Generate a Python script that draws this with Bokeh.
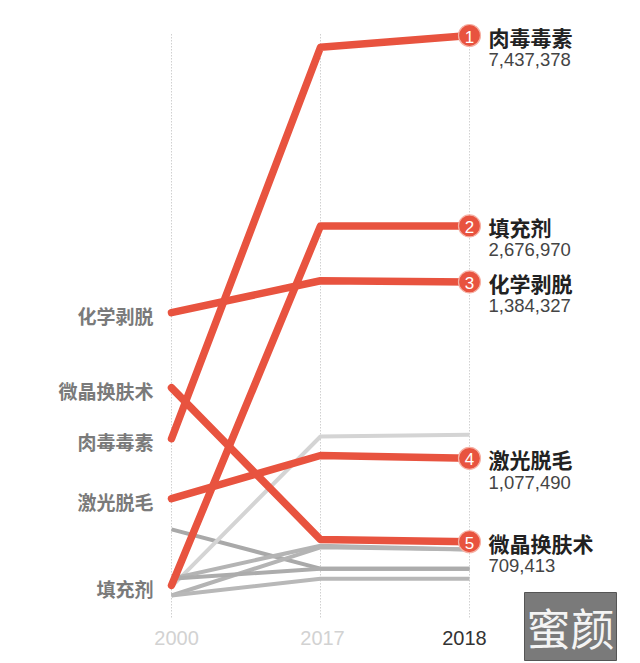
from bokeh.plotting import figure
from bokeh.models import Range1d, Label
from bokeh.core.properties import value
from bokeh.embed import file_html
from bokeh.resources import INLINE

# ---------------- data ----------------
years = ["2000", "2017", "2018"]
year_colors = ["#d2d2d2", "#d2d2d2", "#333333"]

# top five procedures (rank order in 2018)
top_names = ["肉毒毒素", "填充剂", "化学剥脱", "激光脱毛", "微晶换肤术"]
top_2018_counts = ["7,437,378", "2,676,970", "1,384,327", "1,077,490", "709,413"]
top_ranks = ["1", "2", "3", "4", "5"]
# vertical position score (0 = bottom cluster, 100 = top)
top_2000 = [28.0, 1.8, 50.5, 17.3, 37.1]
top_2017 = [97.9, 66.0, 56.2, 25.0, 10.0]
top_2018 = [100.0, 66.0, 56.0, 24.5, 9.6]

# other (grey) procedures
grey_2000 = [11.8, 1.6, 3.0, 0.0, 3.0, 0.0]
grey_2017 = [4.8, 28.4, 8.9, 8.6, 4.8, 3.0]
grey_2018 = [4.8, 28.7, 8.2, 8.2, 4.8, 3.0]
grey_colors = ["#a9a9a9", "#d4d4d4", "#b4b4b4", "#b4b4b4", "#acacac", "#b8b8b8"]

RED = "#e8533f"
CJK = "Noto Sans CJK SC"

# ---------------- figure ----------------
W, H = 640, 663
p = figure(width=W, height=H, output_backend="svg", toolbar_location=None,
           x_range=Range1d(-1.1477, 3.1477), y_range=Range1d(-12.14, 106.25),
           min_border=0, outline_line_color=None)
p.axis.visible = False
p.grid.visible = False
p.background_fill_color = "white"
p.border_fill_color = "white"

xs = list(range(len(years)))

# dotted year guides
p.segment(x0=xs, x1=xs, y0=[-3.9] * 3, y1=[100.4] * 3,
          line_color="#b8b8b8", line_width=1, line_dash="1 2")

# year labels
p.text(x=xs, y=[-7.5] * 3, text=years, text_color=year_colors,
       x_offset=[5, 2, -5],
       text_font=value("Liberation Sans"), text_font_size="20px",
       text_align="center", text_baseline="middle")

# grey lines
for a, b, c, col in zip(grey_2000, grey_2017, grey_2018, grey_colors):
    p.line(xs, [a, b, c], line_color=col, line_width=4, line_join="round")

# red lines
for a, b, c in zip(top_2000, top_2017, top_2018):
    p.line(xs, [a, b, c], line_color=RED, line_width=7.5,
           line_cap="round", line_join="round")

# left labels (2000)
p.text(x=[0] * 5, y=top_2000, text=top_names, x_offset=-18, y_offset=3,
       text_color="#7a7a7a", text_font=value(CJK), text_font_size="19px",
       text_font_style="bold", text_align="right", text_baseline="middle")

# rank circles at 2018
p.scatter(x=[2] * 5, y=top_2018, size=22, fill_color=RED,
          line_color="#f6b2a6", line_width=1.2)
p.text(x=[2] * 5, y=top_2018, text=top_ranks, text_color="white",
       text_font=value("Liberation Sans"), text_font_size="17px",
       text_align="center", text_baseline="middle", y_offset=1)

# right labels
p.text(x=[2] * 5, y=top_2018, text=top_names, x_offset=19, y_offset=1,
       text_color="#222222", text_font=value(CJK), text_font_size="21px",
       text_font_style="bold", text_align="left", text_baseline="middle")
p.text(x=[2] * 5, y=top_2018, text=top_2018_counts, x_offset=19, y_offset=24,
       text_color="#444444", text_font=value("Liberation Sans"),
       text_font_size="18.5px", text_align="left", text_baseline="middle")

# watermark logo
p.add_layout(Label(x=524, y=3, x_units="screen", y_units="screen", text="蜜颜",
                   text_font=CJK, text_font_size="44px", text_color="#f4f4f4",
                   background_fill_color="#7a7a7a", border_line_color="#555555",
                   padding=2))

open("out.html", "w").write(file_html(p, INLINE))
